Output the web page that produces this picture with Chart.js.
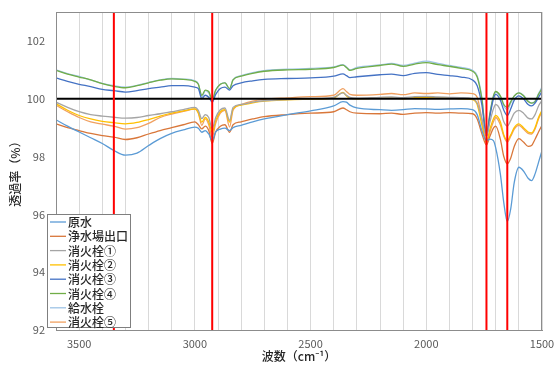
<!DOCTYPE html>
<html lang="ja">
<head>
    <meta charset="UTF-8" />
    <title>透過率スペクトル</title>
    <script src="https://cdn.jsdelivr.net/npm/chart.js"></script>
    <style>
        body { margin: 0; background: #fff; }
        canvas { display: block; }
    </style>
</head>
<body>
    <canvas id="grafico" width="556" height="365"></canvas>

<script>
    // --- DADOS ---
    const wavenumbers = [3600, 3550, 3500, 3450, 3400, 3350, 3300, 3250, 3200, 3150,
        3100, 3050, 3000, 2985, 2970, 2955, 2940, 2925, 2910, 2890,
        2870, 2850, 2835, 2800, 2750, 2700, 2600, 2500, 2400, 2360,
        2345, 2330, 2300, 2200, 2150, 2100, 2050, 2000, 1950, 1900,
        1850, 1800, 1780, 1760, 1740, 1725, 1710, 1700, 1680, 1665,
        1650, 1635, 1620, 1600, 1580, 1560, 1545, 1530, 1515, 1500];

    const genSui = [99.27, 99.05, 98.85, 98.65, 98.45, 98.21, 98.05, 98.12, 98.38, 98.62,
        98.8, 98.92, 99.02, 98.98, 98.84, 98.9, 98.78, 98.56, 98.85, 98.95,
        98.98, 98.9, 99.0, 99.08, 99.2, 99.3, 99.45, 99.58, 99.75, 99.9,
        99.88, 99.78, 99.68, 99.62, 99.6, 99.62, 99.66, 99.65, 99.63, 99.65,
        99.66, 99.62, 99.45, 98.9, 98.55, 98.6, 98.55, 98.3, 97.4, 96.4,
        95.75, 96.2, 97.1, 97.63, 97.5, 97.25, 97.17, 97.4, 97.8, 98.2];

    const jousuijou = [99.13, 99.0, 98.9, 98.8, 98.72, 98.67, 98.59, 98.65, 98.78, 98.9,
        99.0, 99.1, 99.2, 99.1, 98.96, 99.05, 98.9, 98.45, 98.85, 99.05,
        99.1, 98.84, 99.1, 99.2, 99.3, 99.38, 99.45, 99.5, 99.55, 99.68,
        99.62, 99.55, 99.5, 99.48, 99.5, 99.46, 99.5, 99.52, 99.5, 99.52,
        99.5, 99.48, 99.3, 98.8, 98.4, 98.7, 98.98, 99.05, 98.6, 98.0,
        97.75, 97.95, 98.35, 98.62, 98.5, 98.35, 98.38, 98.6, 98.85, 99.08];

    const shoukasen1 = [99.88, 99.7, 99.55, 99.45, 99.4, 99.36, 99.33, 99.35, 99.42, 99.48,
        99.55, 99.62, 99.7, 99.6, 99.31, 99.45, 99.35, 98.96, 99.35, 99.62,
        99.68, 99.25, 99.7, 99.8, 99.88, 99.93, 99.97, 100.0, 100.05, 100.2,
        100.12, 100.05, 100.02, 100.05, 100.06, 100.04, 100.07, 100.08, 100.06, 100.05,
        100.04, 100.0, 99.85, 99.3, 98.7, 99.2, 99.65, 99.8, 99.6, 99.2,
        99.05, 99.25, 99.5, 99.6, 99.5, 99.33, 99.3, 99.45, 99.75, 99.94];

    const shoukasen2 = [99.83, 99.6, 99.42, 99.3, 99.22, 99.17, 99.13, 99.18, 99.28, 99.4,
        99.5, 99.58, 99.65, 99.52, 99.19, 99.35, 99.2, 98.84, 99.25, 99.55,
        99.62, 99.19, 99.65, 99.78, 99.86, 99.92, 99.96, 99.98, 100.03, 100.22,
        100.1, 100.02, 100.0, 100.02, 100.03, 100.0, 100.04, 100.05, 100.03, 100.02,
        100.0, 99.97, 99.8, 99.1, 98.5, 98.95, 99.3, 99.42, 99.2, 98.75,
        98.56, 98.75, 99.0, 99.13, 99.0, 98.85, 98.82, 99.0, 99.35, 99.6];

    const shoukasen3 = [100.72, 100.6, 100.5, 100.42, 100.32, 100.28, 100.23, 100.28, 100.35, 100.4,
        100.45, 100.45, 100.4, 100.35, 100.0, 100.12, 100.05, 99.88, 100.15, 100.35,
        100.4, 100.3, 100.45, 100.55, 100.62, 100.67, 100.7, 100.72, 100.78, 100.86,
        100.8, 100.73, 100.76, 100.83, 100.85, 100.8, 100.88, 100.9, 100.84, 100.8,
        100.75, 100.65, 100.45, 99.8, 98.7, 99.4, 100.0, 100.15, 99.95, 99.6,
        99.42, 99.65, 99.95, 100.1, 100.0, 99.8, 99.75, 99.85, 100.05, 100.25];

    const shoukasen4 = [100.98, 100.85, 100.75, 100.65, 100.52, 100.43, 100.38, 100.45, 100.55, 100.64,
        100.69, 100.67, 100.6, 100.5, 100.12, 100.3, 100.25, 99.98, 100.3, 100.5,
        100.55, 100.35, 100.65, 100.78, 100.88, 100.95, 101.0, 101.02, 101.08, 101.16,
        101.08, 100.98, 101.05, 101.15, 101.2, 101.12, 101.2, 101.25, 101.18, 101.12,
        101.05, 100.95, 100.75, 100.0, 98.75, 99.5, 100.1, 100.25, 100.1, 99.8,
        99.7, 99.9, 100.1, 100.2, 100.1, 99.9, 99.85, 99.9, 100.15, 100.35];

    const kyuusuisen = [101.0, 100.87, 100.77, 100.65, 100.53, 100.45, 100.4, 100.46, 100.56, 100.65,
        100.7, 100.68, 100.62, 100.52, 100.05, 100.28, 100.2, 99.9, 100.28, 100.5,
        100.56, 100.33, 100.66, 100.8, 100.9, 100.97, 101.02, 101.05, 101.1, 101.18,
        101.1, 101.0, 101.08, 101.17, 101.22, 101.15, 101.23, 101.3, 101.22, 101.15,
        101.08, 100.98, 100.8, 100.05, 98.7, 99.45, 100.05, 100.22, 100.05, 99.75,
        99.62, 99.85, 100.08, 100.2, 100.12, 99.92, 99.85, 99.92, 100.18, 100.4];

    const shoukasen5 = [99.77, 99.55, 99.35, 99.2, 99.12, 99.05, 98.95, 99.0, 99.15, 99.35,
        99.47, 99.56, 99.64, 99.5, 99.08, 99.3, 99.1, 98.67, 99.15, 99.5,
        99.6, 99.02, 99.6, 99.8, 99.92, 99.98, 100.03, 100.07, 100.12, 100.35,
        100.25, 100.15, 100.12, 100.15, 100.18, 100.14, 100.2, 100.18, 100.2, 100.17,
        100.2, 100.18, 100.05, 99.3, 98.45, 98.85, 99.2, 99.35, 99.1, 98.7,
        98.5, 98.7, 98.95, 99.08, 98.95, 98.8, 98.78, 98.95, 99.3, 99.55];

    const seriesLabels = ['原水', '浄水場出口', '消火栓①', '消火栓②', '消火栓③', '消火栓④', '給水栓', '消火栓⑤'];
    const seriesValues = [genSui, jousuijou, shoukasen1, shoukasen2, shoukasen3, shoukasen4, kyuusuisen, shoukasen5];
    const seriesColors = ['#5B9BD5', '#D9773A', '#A5A5A5', '#FFC000', '#4472C4', '#70AD47', '#9DC3E6', '#F0A060'];

    // linhas de referência (vermelhas) e linha de 100%
    const markerLines = [3350, 2925, 1740, 1650];
    const baseLine = 100;
    const xRange = [1500, 3600];
    const yRange = [92, 103];
    const yTicks = [92, 94, 96, 98, 100, 102];
    const xLabels = [1500, 2000, 2500, 3000, 3500];

    const fonteJP = '"Noto Sans CJK JP", "Noto Sans", sans-serif';

    // datasets das séries
    const datasets = seriesValues.map((valores, i) => ({
        label: seriesLabels[i],
        data: wavenumbers.map((w, j) => ({ x: w, y: valores[j] })),
        borderColor: seriesColors[i],
        backgroundColor: seriesColors[i],
        borderWidth: 1.3,
        pointRadius: 0,
        cubicInterpolationMode: 'monotone',
        order: 2,
        showInLegend: true
    }));

    // linhas vermelhas verticais
    markerLines.forEach((w) => {
        datasets.push({
            label: 'marker' + w,
            data: [{ x: w, y: yRange[0] }, { x: w, y: yRange[1] }],
            borderColor: '#FF0000',
            borderWidth: 2,
            pointRadius: 0,
            order: 0
        });
    });

    // linha preta em 100%
    datasets.push({
        label: 'base',
        data: [{ x: xRange[0], y: baseLine }, { x: xRange[1], y: baseLine }],
        borderColor: '#000000',
        borderWidth: 2,
        pointRadius: 0,
        order: 1
    });

    // moldura + legenda desenhadas à mão
    const molduraLegenda = {
        id: 'molduraLegenda',
        afterDraw(chart) {
            const ctx = chart.ctx;
            const a = chart.chartArea;
            ctx.save();
            ctx.strokeStyle = '#8C8C8C';
            ctx.lineWidth = 1;
            ctx.strokeRect(a.left + 0.5, a.top + 0.5, a.right - a.left - 1, a.bottom - a.top);

            // caixa da legenda
            const bx = 47.5, by = 214.5, bw = 83, bh = 113;
            ctx.fillStyle = '#FFFFFF';
            ctx.fillRect(bx, by, bw, bh);
            ctx.strokeStyle = '#7F7F7F';
            ctx.strokeRect(bx, by, bw, bh);

            ctx.font = '500 12px ' + fonteJP;
            ctx.textBaseline = 'middle';
            chart.data.datasets.forEach((ds, i) => {
                if (!ds.showInLegend) return;
                const y = 222 + i * 14.3;
                ctx.strokeStyle = ds.borderColor;
                ctx.lineWidth = 1.3;
                ctx.beginPath();
                ctx.moveTo(50, y);
                ctx.lineTo(66, y);
                ctx.stroke();
                ctx.fillStyle = '#262626';
                ctx.fillText(ds.label, 68, y + 0.5);
            });
            ctx.restore();
        }
    };

    new Chart(document.getElementById('grafico'), {
        type: 'line',
        data: { datasets: datasets },
        plugins: [molduraLegenda],
        options: {
            responsive: false,
            animation: false,
            parsing: true,
            layout: { padding: { top: 12, right: 14, left: 0, bottom: 0 } },
            plugins: {
                legend: { display: false },
                tooltip: { enabled: false }
            },
            scales: {
                x: {
                    type: 'linear',
                    reverse: true,
                    min: xRange[0],
                    max: xRange[1],
                    afterFit(scale) {
                        scale.height = 35;
                        scale.paddingLeft = 0;
                        scale.paddingRight = 0;
                    },
                    ticks: {
                        stepSize: 100,
                        autoSkip: false,
                        maxRotation: 0,
                        padding: 7,
                        color: '#595959',
                        font: { size: 11, family: fonteJP },
                        callback: (v) => xLabels.includes(v) ? String(v) : ''
                    },
                    grid: { color: '#D9D9D9', lineWidth: 1, drawTicks: false },
                    border: { color: '#8C8C8C', width: 1 },
                    title: {
                        display: true,
                        text: '波数（cm⁻¹）',
                        color: '#262626',
                        font: { size: 12, weight: '500', family: fonteJP },
                        padding: { top: 0, bottom: 1 }
                    }
                },
                y: {
                    min: yRange[0],
                    max: yRange[1],
                    afterFit(scale) {
                        scale.width = 56;
                        scale.paddingTop = 0;
                        scale.paddingBottom = 0;
                    },
                    ticks: {
                        stepSize: 2,
                        padding: 11,
                        color: '#595959',
                        font: { size: 11, family: fonteJP },
                        callback: (v) => yTicks.includes(v) ? String(v) : ''
                    },
                    grid: { display: false, drawTicks: false },
                    border: { color: '#8C8C8C', width: 1 },
                    title: {
                        display: true,
                        text: '透過率（%）',
                        color: '#262626',
                        font: { size: 12, weight: '500', family: fonteJP },
                        padding: { top: 8, bottom: 4 }
                    }
                }
            }
        }
    });
</script>
</body>
</html>
